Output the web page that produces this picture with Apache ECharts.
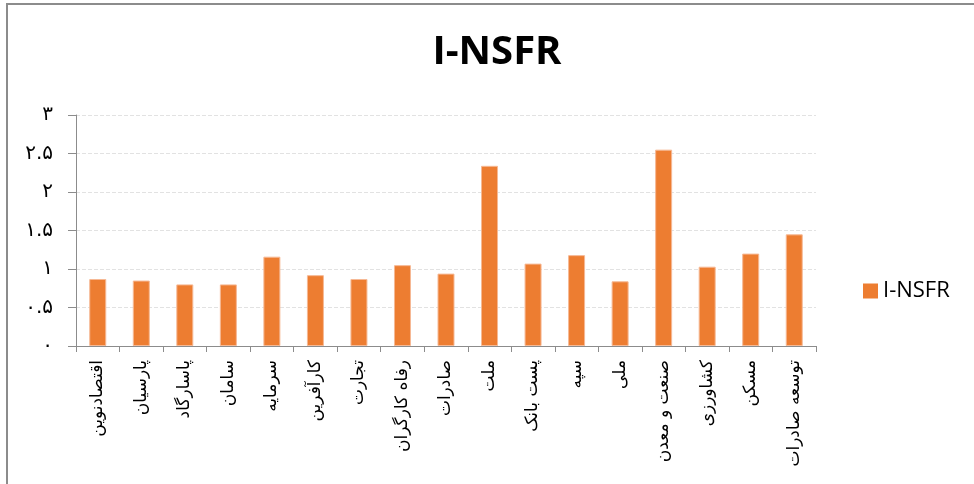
<!DOCTYPE html>
<html>
<head>
    <meta charset="utf-8">
    <title>I-NSFR</title>
    <script src="https://cdn.jsdelivr.net/npm/echarts@6/dist/echarts.min.js"></script>
</head>
<body style="margin:0;background:#fff;">
<style>
#frame{
    position:absolute; left:6px; top:3px; width:980px; height:490px;
    border-left:2px solid #8c8c8c; border-top:2px solid #8c8c8c;
}
#chart{
    position:absolute; left:0; top:0; width:974px; height:484px;
}
</style>
<div id="frame"></div>
<div id="chart"></div>
<script>
    // bank names, left to right
    var banks = ['اقتصادنوین', 'پارسیان', 'پاسارگاد', 'سامان', 'سرمایه', 'کارآفرین', 'تجارت',
        'رفاه کارگران', 'صادرات', 'ملت', 'پست بانک', 'سپه', 'ملی', 'صنعت و معدن',
        'کشاورزی', 'مسکن', 'توسعه صادرات'];
    // I-NSFR values
    var nsfr = [0.87, 0.85, 0.80, 0.80, 1.16, 0.92, 0.87, 1.05, 0.94, 2.34, 1.07, 1.18, 0.84, 2.55, 1.03, 1.20, 1.45];
    // persian tick labels for 0, 0.5 ... 3
    var yLabels = ['۰', '۰.۵', '۱', '۱.۵', '۲', '۲.۵', '۳'];

    var chart = echarts.init(document.getElementById('chart'));
    var option = {
        animation: false,
        title: {
            text: 'I-NSFR',
            left: 492, top: 28, textAlign: 'center',
            textStyle: {fontFamily: 'Open Sans', fontWeight: 'bold', fontSize: 40, color: '#000'}
        },
        legend: {
            data: ['I-NSFR'],
            orient: 'vertical',
            left: 858, top: 275,
            itemWidth: 15, itemHeight: 15, itemGap: 8,
            icon: 'rect',
            itemStyle: {borderWidth: 0},
            textStyle: {fontFamily: 'Open Sans', fontSize: 22, color: '#000'}
        },
        grid: {left: 76, right: 158, top: 115, bottom: 138},
        xAxis: {
            type: 'category',
            data: banks,
            axisLine: {lineStyle: {color: '#8c8c8c', width: 1}},
            axisTick: {show: true, length: 6, lineStyle: {color: '#8c8c8c'}},
            axisLabel: {
                interval: 0, rotate: 90, margin: 14,
                fontFamily: 'DejaVu Sans', fontSize: 17, color: '#000'
            }
        },
        yAxis: {
            type: 'value',
            min: 0, max: 3, interval: 0.5,
            axisLine: {show: true, lineStyle: {color: '#8c8c8c', width: 1}},
            axisTick: {show: true, length: 8, lineStyle: {color: '#8c8c8c'}},
            axisLabel: {
                margin: 23,
                fontFamily: 'DejaVu Sans', fontSize: 20, color: '#000',
                formatter: function (v) { return yLabels[Math.round(v / 0.5)]; }
            },
            splitLine: {lineStyle: {color: '#e2e2e2', type: 'dashed'}}
        },
        series: [
            {
                name: 'I-NSFR',
                type: 'bar',
                data: nsfr,
                barWidth: 17,
                itemStyle: {color: '#ed7d31', borderColor: '#f6b995', borderWidth: 1}
            }
        ]
    };
    chart.setOption(option);
</script>
</body>
</html>
